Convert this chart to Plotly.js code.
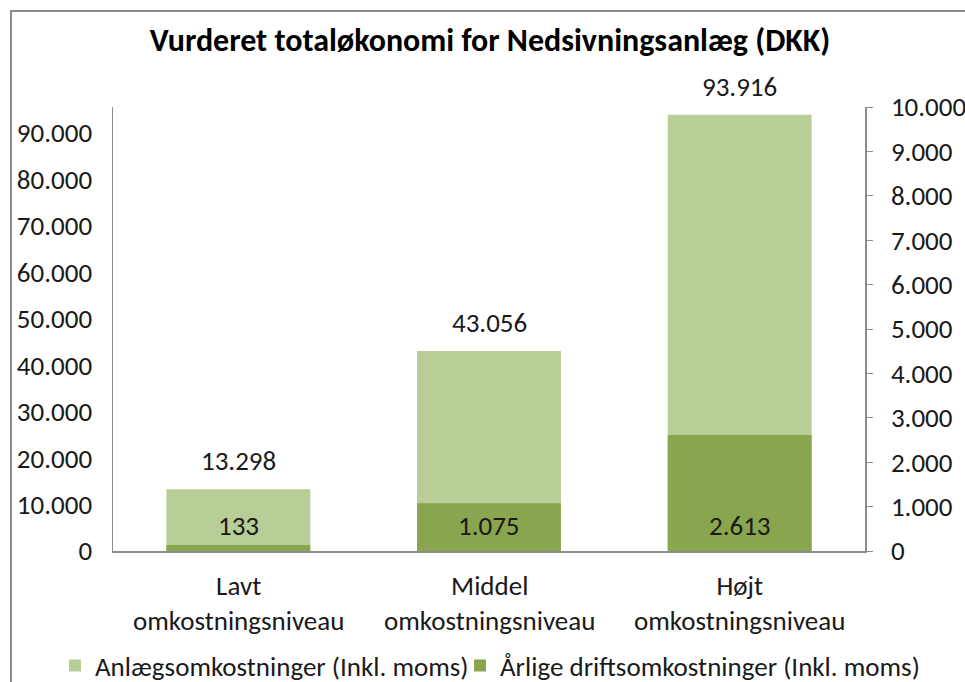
<!DOCTYPE html>
<html>
<head>
<meta charset="utf-8">
<script src="https://cdn.plot.ly/plotly-3.0.1.min.js"></script>
<style>
  html, body { margin: 0; padding: 0; background: #fff; }
  #frame { position: absolute; left: 10px; top: 10px; width: 960px; height: 680px;
           border-left: 2px solid #8c8c8c; border-top: 2px solid #8c8c8c; }
  #chart { position: absolute; left: 0; top: 0; width: 965px; height: 682px; }
</style>
</head>
<body>
<div id="frame"></div>
<div id="chart"></div>
<script>
// Data
const categories = ["Lavt omkostningsniveau", "Middel omkostningsniveau", "Højt omkostningsniveau"];
const categoryLine1 = ["Lavt", "Middel", "Højt"];
const categoryLine2 = ["omkostningsniveau", "omkostningsniveau", "omkostningsniveau"];
const anlaegValues = [13298, 43056, 93916];
const driftValues = [133, 1075, 2613];
const seriesNames = ["Anlægsomkostninger (Inkl. moms)", "Årlige driftsomkostninger (Inkl. moms)"];
const leftTicks = [0, 10000, 20000, 30000, 40000, 50000, 60000, 70000, 80000, 90000];
const rightTicks = [0, 1000, 2000, 3000, 4000, 5000, 6000, 7000, 8000, 9000, 10000];

const FONT = "Carlito, 'Liberation Sans', Arial, sans-serif";
const FS = 27;
const TXT = "#1a1a1a";
const fmt = n => String(n).replace(/\B(?=(\d{3})+(?!\d))/g, ".");

const traces = [
  {
    type: "bar", name: seriesNames[0], x: categories, y: anlaegValues,
    yaxis: "y", marker: { color: "#b9cd96" }, width: 0.574, offsetgroup: "a",
    hoverinfo: "skip", legend: "legend"
  },
  {
    type: "bar", name: seriesNames[1], x: categories, y: driftValues,
    yaxis: "y2", marker: { color: "#89a54e" }, width: 0.574, offsetgroup: "a",
    hoverinfo: "skip", legend: "legend2"
  }
];

const annotations = [];
categories.forEach((c, i) => {
  annotations.push({ x: c, y: anlaegValues[i], xref: "x", yref: "y", text: fmt(anlaegValues[i]),
    showarrow: false, yanchor: "bottom", yshift: 10, font: { family: FONT, size: FS, color: TXT } });
  annotations.push({ x: c, y: 0, xref: "x", yref: "y2", text: fmt(driftValues[i]),
    showarrow: false, yanchor: "middle", yshift: 26, font: { family: FONT, size: FS, color: TXT } });
  annotations.push({ x: c, y: 0, xref: "x", yref: "paper",
    text: categoryLine1[i] + "<br>" + categoryLine2[i],
    showarrow: false, yanchor: "middle", yshift: -52, font: { family: FONT, size: FS, color: TXT } });
});

const legendCommon = { orientation: "h", xref: "container", xanchor: "left",
  yref: "container", y: 1 - 666 / 682, yanchor: "middle", bgcolor: "rgba(0,0,0,0)",
  font: { family: FONT, size: FS, color: TXT }, itemwidth: 30 };

const layout = {
  width: 965, height: 682,
  margin: { l: 113, r: 100, t: 107, b: 131, autoexpand: false },
  paper_bgcolor: "rgba(0,0,0,0)", plot_bgcolor: "rgba(0,0,0,0)",
  separators: ",.",
  font: { family: FONT, size: FS, color: TXT },
  title: { text: "<b>Vurderet totaløkonomi for Nedsivningsanlæg (DKK)</b>",
           font: { family: FONT, size: 32, color: "#000" },
           x: 490 / 965, xanchor: "center", y: 1 - 40 / 682, yanchor: "middle" },
  barmode: "overlay",
  showlegend: true,
  legend: Object.assign({}, legendCommon, { x: 55 / 965 }),
  legend2: Object.assign({}, legendCommon, { x: 460 / 965 }),
  xaxis: { showline: true, linecolor: "#8c8c8c", linewidth: 1.5, ticks: "", showgrid: false,
           zeroline: false, showticklabels: false },
  yaxis: { range: [0, 95600], tickvals: leftTicks, ticktext: leftTicks.map(fmt),
           showline: true, linecolor: "#8c8c8c", linewidth: 1.5, ticks: "", showgrid: false,
           zeroline: false, ticklabelstandoff: 14, tickfont: { family: FONT, size: FS, color: TXT } },
  yaxis2: { range: [0, 10000], tickvals: rightTicks, ticktext: rightTicks.map(fmt),
            overlaying: "y", side: "right", showline: true, linecolor: "#8c8c8c", linewidth: 1.5,
            ticks: "outside", ticklen: 6, tickcolor: "#8c8c8c", showgrid: false, zeroline: false,
            ticklabelstandoff: 13, tickfont: { family: FONT, size: FS, color: TXT } },
  annotations: annotations
};

Plotly.newPlot("chart", traces, layout, { staticPlot: true, displayModeBar: false });
</script>
</body>
</html>
